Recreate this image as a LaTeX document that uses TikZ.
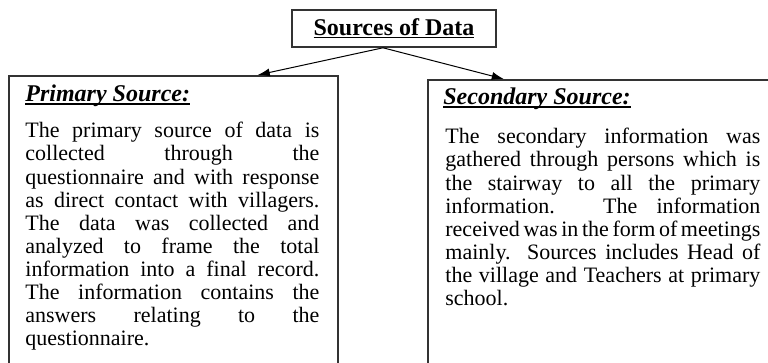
\documentclass[tikz,border=0pt]{standalone}
\usepackage{fontspec}
\setmainfont{Liberation Serif}
\usetikzlibrary{arrows.meta,positioning}

% underline that sits just under the baseline
\newcommand{\hdline}[1]{\leavevmode\setbox0\hbox{#1}\rlap{\rule[-1.3pt]{\wd0}{0.7pt}}\box0}

\begin{document}
\begin{tikzpicture}[x=0.5pt, y=-0.5pt,
  box/.style={draw=black!80, line width=0.8pt, inner sep=0pt},
  head/.style={inner sep=0pt, font=\fontsize{12}{14}\selectfont\bfseries\itshape},
  body/.style={inner sep=0pt, align=justify, font=\fontsize{11}{11.55}\selectfont,
    execute at begin node={\tolerance=10000\relax\hbadness=10000\relax\hyphenpenalty=10000\relax}},
  link/.style={-{Latex[length=6pt,width=4pt]}, line width=0.5pt}]

  \clip (0,0) rectangle (768,363);

  % Title
  \node[box, minimum width=102pt, minimum height=18.5pt,
        font=\fontsize{12}{14}\selectfont\bfseries] (src) at (394,28.5) {\hdline{Sources of Data}};

  % Source boxes (run past the bottom edge)
  \node[box, anchor=north west, minimum width=164.5pt, minimum height=160pt] (prim) at (8,75) {};
  \node[box, anchor=north west, minimum width=180pt, minimum height=160pt] (sec) at (427,79) {};

  % Headings
  \node[head, anchor=base west] (primhead) at ([xshift=8.5pt, yshift=-13.5pt]prim.north west) {\hdline{Primary Source:}};
  \node[head, anchor=base west] (sechead) at ([xshift=8pt, yshift=-13pt]sec.north west) {\hdline{Secondary Source:}};

  % Texts
  \node[body, text width=147pt, anchor=north west] (primtext) at ([xshift=8.5pt, yshift=-23.5pt]prim.north west) {%
    The primary source of data is\linebreak
    collected through the\linebreak
    questionnaire and with response\linebreak
    as direct contact with villagers.\linebreak
    The data was collected and\linebreak
    analyzed to frame the total\linebreak
    information into a final record.\linebreak
    The information contains the\linebreak
    answers relating to the\linebreak
    questionnaire.};
  \node[body, text width=157.5pt, anchor=north west] (sectext) at ([xshift=9pt, yshift=-24.5pt]sec.north west) {%
    The secondary information was\linebreak
    gathered through persons which is\linebreak
    the stairway to all the primary\linebreak
    information. The information\linebreak
    {\spaceskip=0.15em plus 0.3em minus 0.05em received was in the form of meetings}\linebreak
    mainly. Sources includes Head of\linebreak
    the village and Teachers at primary\linebreak
    school.};

  % Arrows
  \draw[link] ([xshift=-5.5pt]src.south) -- ([xshift=42.25pt]prim.north);
  \draw[link] ([xshift=-5.5pt]src.south) -- ([xshift=-52pt]sec.north);

\end{tikzpicture}
\end{document}
